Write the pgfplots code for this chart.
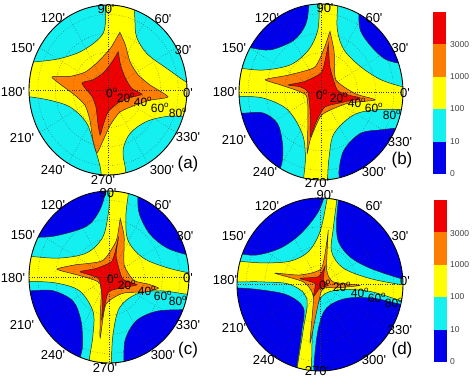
\documentclass[border=0pt]{standalone}
\usepackage{pgfplots}
\pgfplotsset{compat=1.18}
\usepackage{fontspec}
\setmainfont{Liberation Sans}
\definecolor{cred}{RGB}{240,0,0}
\definecolor{corange}{RGB}{255,125,0}
\definecolor{cyellow}{RGB}{255,255,0}
\definecolor{ccyan}{RGB}{20,240,240}
\definecolor{cblue}{RGB}{0,0,235}
\pgfplotsset{
  panel/.style={scale only axis, hide axis, clip=false, xmin=-1, xmax=1, ymin=-1, ymax=1, anchor=center},
  cf/.style={draw=black!85, line width=0.5pt, smooth, tension=0.55, mark=none, forget plot},
  star/.style={draw=black!85, line width=0.5pt, smooth, tension=0.35, mark=none, forget plot},
}
\newcommand{\polarframe}[4]{%
\begin{scope}[shift={(#1pt,-#2pt)}, x=#3pt, y=#4pt]
  \draw[black!80, dotted, line width=0.4pt] (0,0) circle [radius=0.2222] (0,0) circle [radius=0.4444] (0,0) circle [radius=0.6667] (0,0) circle [radius=0.8889];
  \foreach \a in {0,30,...,330} \draw[black!80, dotted, line width=0.4pt] (0,0) -- (\a:1);
  \fill[white, even odd rule] (0,0) circle [radius=1] (0,0) circle [radius=1.16];
  \draw[black, line width=0.9pt] (0,0) circle [radius=1];
\end{scope}}
\newcommand{\q}{\textquotesingle}
\newcommand{\dg}[1]{#1\textsuperscript{o}}
\begin{document}
\begin{tikzpicture}
\path[use as bounding box] (0,0) rectangle (474pt,-377pt);
% ---------------- panel (a)
\begin{axis}[panel, width=158pt, height=170pt, at={(108pt,-90pt)}]
\fill[cyellow] (axis cs:0,0) ellipse [x radius=79pt, y radius=85pt];
\addplot[cf, fill=ccyan] coordinates {(-0.02,1.05) (-0.03,0.98) (-0.06,0.67) (-0.31,0.47) (-0.61,0.37) (-0.93,0.33) (-1.0,0.33)} -- (axis cs:-0.97,0.56) -- (axis cs:-0.56,0.97) -- (axis cs:0,1.12) -- cycle;
\addplot[cf, fill=ccyan] coordinates {(0.33,1.0) (0.34,0.84) (0.36,0.63) (0.49,0.43) (0.75,0.25) (0.98,0.10) (1.05,0.08)} -- (axis cs:0.97,0.56) -- (axis cs:0.56,0.97) -- cycle;
\addplot[cf, fill=ccyan] coordinates {(-1.05,-0.08) (-0.99,-0.08) (-0.74,-0.12) (-0.48,-0.2) (-0.27,-0.39) (-0.17,-0.67) (-0.10,-0.90) (-0.08,-1.05)} -- (axis cs:-0.56,-0.97) -- (axis cs:-0.97,-0.56) -- cycle;
\addplot[cf, fill=ccyan] coordinates {(0.23,-1.03) (0.22,-0.92) (0.19,-0.71) (0.28,-0.51) (0.49,-0.37) (0.75,-0.31) (0.96,-0.31) (1.0,-0.32)} -- (axis cs:0.97,-0.56) -- (axis cs:0.56,-0.97) -- cycle;
\addplot[star, fill=corange] coordinates {(0.15,0.68) (0.22,0.53) (0.28,0.33) (0.38,0.18) (0.53,0.06) (0.76,-0.08) (0.53,-0.12) (0.34,-0.18) (0.15,-0.26) (0.03,-0.41) (-0.06,-0.59) (-0.14,-0.74) (-0.19,-0.59) (-0.23,-0.35) (-0.29,-0.18) (-0.42,-0.06) (-0.71,0.15) (-0.48,0.16) (-0.29,0.21) (-0.14,0.32) (0.03,0.49) (0.15,0.68)} -- cycle;
\addplot[star, fill=cred] coordinates {(0.13,0.45) (0.16,0.29) (0.22,0.14) (0.30,0.02) (0.43,-0.05) (0.28,-0.09) (0.13,-0.15) (0,-0.26) (-0.06,-0.41) (-0.10,-0.53) (-0.13,-0.38) (-0.15,-0.21) (-0.2,-0.08) (-0.33,0.08) (-0.19,0.12) (-0.06,0.2) (0.05,0.33) (0.13,0.45)} -- cycle;
\end{axis}
\polarframe{108}{90}{79}{85}
% ---------------- panel (b)
\begin{axis}[panel, width=164pt, height=176pt, at={(321pt,-92pt)}]
\fill[cyellow] (axis cs:0,0) ellipse [x radius=82pt, y radius=88pt];
\addplot[cf, fill=ccyan] coordinates {(-1.05,0.27) (-0.99,0.27) (-0.70,0.25) (-0.37,0.31) (-0.15,0.48) (-0.04,0.70) (-0.02,0.97) (-0.02,1.05)} -- (axis cs:-0.56,0.97) -- (axis cs:-0.97,0.56) -- cycle;
\addplot[cf, fill=ccyan] coordinates {(0.20,1.03) (0.20,0.95) (0.20,0.70) (0.28,0.48) (0.48,0.29) (0.73,0.14) (0.99,0.06) (1.05,0.05)} -- (axis cs:0.97,0.56) -- (axis cs:0.56,0.97) -- cycle;
\addplot[cf, fill=ccyan] coordinates {(1.05,-0.20) (0.99,-0.20) (0.69,-0.20) (0.40,-0.26) (0.16,-0.47) (0.10,-0.73) (0.08,-0.98) (0.08,-1.05)} -- (axis cs:0.56,-0.97) -- (axis cs:0.97,-0.56) -- cycle;
\addplot[cf, fill=ccyan] coordinates {(-0.22,-1.03) (-0.21,-0.96) (-0.19,-0.73) (-0.23,-0.47) (-0.41,-0.20) (-0.70,-0.07) (-0.99,-0.05) (-1.05,-0.05)} -- (axis cs:-0.97,-0.56) -- (axis cs:-0.56,-0.97) -- cycle;
\addplot[cf, fill=cblue] coordinates {(-0.89,0.52) (-0.84,0.50) (-0.61,0.48) (-0.33,0.59) (-0.19,0.76) (-0.15,0.95) (-0.15,1.03)} -- (axis cs:-0.56,0.97) -- cycle;
\addplot[cf, fill=cblue] coordinates {(0.46,0.98) (0.46,0.91) (0.48,0.70) (0.61,0.52) (0.77,0.38) (0.93,0.33) (0.99,0.33)} -- (axis cs:0.97,0.56) -- (axis cs:0.56,0.97) -- cycle;
\addplot[cf, fill=cblue] coordinates {(-1.0,-0.24) (-0.94,-0.24) (-0.70,-0.24) (-0.53,-0.36) (-0.47,-0.58) (-0.47,-0.77) (-0.51,-0.90)} -- (axis cs:-0.97,-0.56) -- cycle;
\addplot[cf, fill=cblue] coordinates {(0.23,-1.0) (0.22,-0.89) (0.28,-0.66) (0.48,-0.47) (0.73,-0.43) (0.93,-0.41) (0.98,-0.41)} -- (axis cs:0.97,-0.56) -- (axis cs:0.56,-0.97) -- cycle;
\addplot[star, fill=corange] coordinates {(0.11,0.69) (0.16,0.46) (0.18,0.14) (0.42,-0.02) (0.66,-0.09) (0.32,-0.13) (0.01,-0.26) (-0.13,-0.54) (-0.17,-0.70) (-0.16,-0.36) (-0.18,-0.04) (-0.46,0.07) (-0.68,0.14) (-0.41,0.19) (-0.08,0.28) (0.04,0.50) (0.11,0.69)} -- cycle;
\addplot[star, fill=cred] coordinates {(0.09,0.55) (0.11,0.28) (0.20,0.02) (0.36,-0.04) (0.48,-0.07) (0.30,-0.11) (0.05,-0.17) (-0.06,-0.34) (-0.13,-0.51) (-0.13,-0.26) (-0.16,0.0) (-0.26,0.06) (-0.40,0.08) (-0.20,0.12) (0.01,0.23) (0.09,0.55)} -- cycle;
\end{axis}
\polarframe{321}{92}{82}{88}
% ---------------- panel (c)
\begin{axis}[panel, width=160pt, height=172pt, at={(109pt,-277pt)}]
\fill[cyellow] (axis cs:0,0) ellipse [x radius=80pt, y radius=86pt];
\addplot[cf, fill=ccyan] coordinates {(-1.05,0.24) (-0.99,0.24) (-0.62,0.22) (-0.28,0.28) (-0.08,0.46) (-0.01,0.73) (0.01,0.96) (0.01,1.04)} -- (axis cs:0,1.12) -- (axis cs:-0.56,0.97) -- (axis cs:-0.97,0.56) -- cycle;
\addplot[cf, fill=ccyan] coordinates {(0.24,1.02) (0.24,0.96) (0.21,0.69) (0.24,0.42) (0.43,0.22) (0.72,0.11) (0.99,0.05) (1.05,0.05)} -- (axis cs:0.97,0.56) -- (axis cs:0.56,0.97) -- cycle;
\addplot[cf, fill=ccyan] coordinates {(1.04,-0.20) (0.97,-0.20) (0.63,-0.16) (0.34,-0.20) (0.13,-0.36) (0.05,-0.67) (0.03,-0.98) (0.03,-1.05)} -- (axis cs:0.56,-0.97) -- (axis cs:0.97,-0.56) -- cycle;
\addplot[cf, fill=ccyan] coordinates {(-0.25,-1.0) (-0.24,-0.92) (-0.2,-0.67) (-0.2,-0.40) (-0.37,-0.16) (-0.66,-0.07) (-0.99,-0.05) (-1.05,-0.05)} -- (axis cs:-0.97,-0.56) -- (axis cs:-0.56,-0.97) -- cycle;
\addplot[cf, fill=cblue] coordinates {(-1.0,0.46) (-0.95,0.46) (-0.66,0.48) (-0.28,0.59) (-0.12,0.77) (-0.05,0.96) (-0.05,1.04)} -- (axis cs:-0.56,0.97) -- cycle;
\addplot[cf, fill=cblue] coordinates {(0.36,0.98) (0.36,0.92) (0.38,0.73) (0.51,0.50) (0.72,0.34) (0.97,0.26) (1.02,0.26)} -- (axis cs:0.97,0.56) -- (axis cs:0.56,0.97) -- cycle;
\addplot[cf, fill=cblue] coordinates {(-1.03,-0.16) (-0.97,-0.16) (-0.70,-0.16) (-0.45,-0.28) (-0.35,-0.51) (-0.33,-0.78) (-0.35,-0.9) (-0.37,-0.98)} -- (axis cs:-0.56,-0.97) -- (axis cs:-0.97,-0.56) -- cycle;
\addplot[cf, fill=cblue] coordinates {(0.19,-1.03) (0.20,-0.74) (0.34,-0.51) (0.59,-0.40) (0.90,-0.38) (1.0,-0.38)} -- (axis cs:0.97,-0.56) -- (axis cs:0.56,-0.97) -- cycle;
\addplot[star, fill=corange] coordinates {(0.14,0.68) (0.19,0.47) (0.19,0.14) (0.31,-0.04) (0.48,-0.08) (0.62,-0.13) (0.47,-0.17) (0.17,-0.19) (-0.04,-0.32) (-0.11,-0.71) (-0.11,-0.46) (-0.11,-0.08) (-0.38,0.02) (-0.65,0.09) (-0.43,0.14) (-0.08,0.19) (0.09,0.42) (0.14,0.68)} -- cycle;
\addplot[star, fill=cred] coordinates {(0.12,0.47) (0.09,0.24) (0.17,-0.02) (0.35,-0.09) (0.19,-0.12) (-0.01,-0.18) (-0.09,-0.50) (-0.08,-0.28) (-0.13,-0.02) (-0.36,0.06) (-0.16,0.10) (0.04,0.19) (0.12,0.47)} -- cycle;
\end{axis}
\polarframe{109}{277}{80}{86}
% ---------------- panel (d)
\begin{axis}[panel, width=166pt, height=173pt, at={(320pt,-284.5pt)}]
\fill[cyellow] (axis cs:0,0) ellipse [x radius=83pt, y radius=86.5pt];
\addplot[cf, fill=ccyan] coordinates {(-1.05,0.27) (-0.99,0.27) (-0.69,0.25) (-0.36,0.27) (-0.14,0.38) (0,0.61) (0.08,0.96) (0.09,1.04)} -- (axis cs:0,1.12) -- (axis cs:-0.56,0.97) -- (axis cs:-0.97,0.56) -- cycle;
\addplot[cf, fill=ccyan] coordinates {(0.20,1.03) (0.20,0.96) (0.16,0.65) (0.14,0.38) (0.28,0.19) (0.60,0.07) (0.97,0.0) (1.05,0.0)} -- (axis cs:0.97,0.56) -- (axis cs:0.56,0.97) -- cycle;
\addplot[cf, fill=ccyan] coordinates {(1.02,-0.19) (0.95,-0.18) (0.60,-0.08) (0.24,-0.06) (0.02,-0.14) (-0.08,-0.43) (-0.10,-0.87) (-0.10,-1.04)} -- (axis cs:0.56,-0.97) -- (axis cs:0.97,-0.56) -- cycle;
\addplot[cf, fill=ccyan] coordinates {(-0.28,-1.0) (-0.26,-0.87) (-0.20,-0.51) (-0.16,-0.16) (-0.36,0) (-0.69,0.03) (-0.99,0.03) (-1.05,0.03)} -- (axis cs:-0.97,-0.56) -- (axis cs:-0.56,-0.97) -- cycle;
\addplot[cf, fill=cblue] coordinates {(-1.04,0.36) (-0.99,0.36) (-0.77,0.34) (-0.48,0.42) (-0.24,0.58) (-0.04,0.81) (0.04,0.98) (0.05,1.04)} -- (axis cs:0,1.12) -- (axis cs:-0.56,0.97) -- (axis cs:-0.97,0.56) -- cycle;
\addplot[cf, fill=cblue] coordinates {(0.22,1.03) (0.22,0.97) (0.20,0.73) (0.22,0.50) (0.36,0.32) (0.60,0.19) (0.97,0.07) (1.05,0.07)} -- (axis cs:0.97,0.56) -- (axis cs:0.56,0.97) -- cycle;
\addplot[cf, fill=cblue] coordinates {(1.0,-0.23) (0.93,-0.22) (0.65,-0.16) (0.32,-0.16) (0.08,-0.27) (-0.02,-0.51) (-0.07,-0.89) (-0.07,-1.04)} -- (axis cs:0.56,-0.97) -- (axis cs:0.97,-0.56) -- cycle;
\addplot[cf, fill=cblue] coordinates {(-0.29,-1.0) (-0.27,-0.88) (-0.22,-0.54) (-0.20,-0.27) (-0.40,-0.12) (-0.73,-0.06) (-0.99,-0.04) (-1.05,-0.04)} -- (axis cs:-0.97,-0.56) -- (axis cs:-0.56,-0.97) -- cycle;
\addplot[star, fill=corange] coordinates {(0.10,0.63) (0.08,0.17) (0.16,0.03) (0.48,-0.01) (0.2,-0.04) (0.02,-0.07) (-0.12,-0.68) (-0.08,-0.14) (-0.2,0.03) (-0.54,0.13) (-0.24,0.11) (0.02,0.19) (0.10,0.63)} -- cycle;
\addplot[star, fill=cred] coordinates {(0.06,0.21) (0.04,0.05) (0.10,-0.01) (0,-0.04) (-0.08,-0.14) (-0.06,0.01) (-0.24,0.07) (-0.02,0.09) (0.06,0.21)} -- cycle;
\end{axis}
\polarframe{320}{284.5}{83}{86.5}
% ---------------- colour bars
\begin{axis}[scale only axis, hide axis, xmin=0, xmax=1, ymin=0, ymax=5, width=13pt, height=162pt, at={(433pt,-174pt)}, anchor=south west]
\addplot[fill=cblue, draw=none, forget plot] coordinates {(0,0) (1,0) (1,1) (0,1)} -- cycle;
\addplot[fill=ccyan, draw=none, forget plot] coordinates {(0,1) (1,1) (1,2) (0,2)} -- cycle;
\addplot[fill=cyellow, draw=none, forget plot] coordinates {(0,2) (1,2) (1,3) (0,3)} -- cycle;
\addplot[fill=corange, draw=none, forget plot] coordinates {(0,3) (1,3) (1,4) (0,4)} -- cycle;
\addplot[fill=cred, draw=none, forget plot] coordinates {(0,4) (1,4) (1,5) (0,5)} -- cycle;
\end{axis}
\begin{axis}[scale only axis, hide axis, xmin=0, xmax=1, ymin=0, ymax=5, width=13pt, height=162pt, at={(434pt,-362pt)}, anchor=south west]
\addplot[fill=cblue, draw=none, forget plot] coordinates {(0,0) (1,0) (1,1) (0,1)} -- cycle;
\addplot[fill=ccyan, draw=none, forget plot] coordinates {(0,1) (1,1) (1,2) (0,2)} -- cycle;
\addplot[fill=cyellow, draw=none, forget plot] coordinates {(0,2) (1,2) (1,3) (0,3)} -- cycle;
\addplot[fill=corange, draw=none, forget plot] coordinates {(0,3) (1,3) (1,4) (0,4)} -- cycle;
\addplot[fill=cred, draw=none, forget plot] coordinates {(0,4) (1,4) (1,5) (0,5)} -- cycle;
\end{axis}
% ---------------- labels
\begin{scope}[every node/.style={font=\fontsize{13}{13}\selectfont, inner sep=0pt}]
\foreach \t/\x/\y in {90/106/9, 60/163/19, 30/183/50, 0/188/93, 330/188/137, 300/162/170, 270/103/180, 240/53/170, 210/22/138, 180/13/92, 150/23/48, 120/53/18,
 90/325/8, 60/374/18, 30/400/48, 0/405/93, 330/400/142, 300/374/172, 270/317/183, 240/265/172, 210/234/140, 180/225/92, 150/234/48, 120/267/18,
 90/108/193, 60/163/205, 30/185/236, 0/188/278, 330/188/325, 300/163/355, 270/105/368, 240/53/355, 210/22/325, 180/13/278, 150/23/235, 120/53/205,
 90/325/195, 60/374/206, 30/400/236, 0/405/281, 330/400/330, 300/374/360, 270/317/371, 240/265/360, 210/234/328, 180/225/280, 150/234/236, 120/267/206}
  \node at (\x pt,-\y pt) {\t\q};
\end{scope}
\begin{scope}[every node/.style={font=\fontsize{17}{17}\selectfont, inner sep=0pt}]
\node at (188pt,-164pt) {(a)};
\node at (402pt,-160pt) {(b)};
\node at (188pt,-350pt) {(c)};
\node at (402pt,-350pt) {(d)};
\end{scope}
\begin{scope}[every node/.style={font=\fontsize{12}{12}\selectfont, inner sep=0pt}]
\foreach \t/\x/\y in {0/112/93, 20/126/98, 40/143/102, 60/160/108, 80/178/113,
 0/322/95, 20/339/98, 40/357/103, 60/374/108, 80/392/115,
 0/113/279, 20/127/285, 40/147/291, 60/163/296, 80/178/301,
 0/325/285, 20/342/287, 40/360/293, 60/377/298, 80/394/303}
  \node at (\x pt,-\y pt) {\dg{\t}};
\end{scope}
\begin{scope}[every node/.style={font=\fontsize{8.5}{8.5}\selectfont, text=black!75, inner sep=0pt, anchor=west}]
\foreach \t/\y in {3000/45, 1000/77, 100/109, 10/142, 0/174, 3000/234, 1000/265, 100/297, 10/330, 0/362}
  \node at (450pt,-\y pt) {\t};
\end{scope}
\end{tikzpicture}
\end{document}
